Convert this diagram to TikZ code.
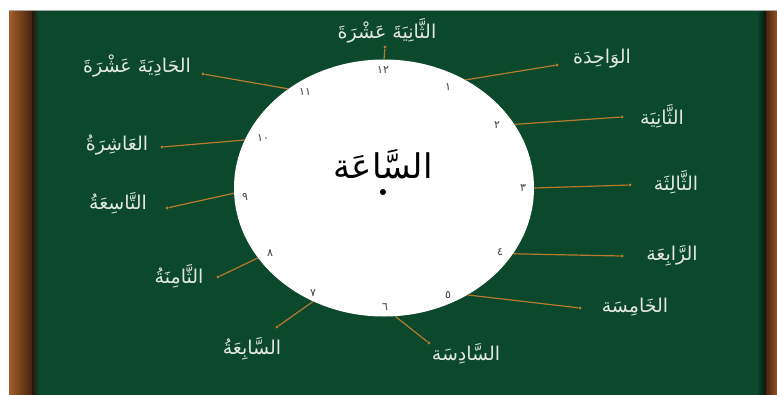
\documentclass[tikz,border=0pt]{standalone}
\usepackage{fontspec}
\usetikzlibrary{shapes.geometric}
\TeXXeTstate=1
\newfontfamily\arabicfont[Script=Arabic]{DejaVu Sans}
\definecolor{board}{RGB}{12,72,44}
\definecolor{chalk}{RGB}{226,232,222}
\definecolor{wirecol}{RGB}{184,122,46}
\definecolor{woodA}{RGB}{165,92,42}
\definecolor{woodB}{RGB}{70,36,16}
\begin{document}
\begin{tikzpicture}[x=1pt,y=-1pt,
  lbl/.style={text=chalk,font=\arabicfont\fontsize{19}{22}\selectfont,inner sep=0pt},
  num/.style={text=black!75,font=\arabicfont\fontsize{11}{12}\selectfont,inner sep=0pt},
  connector/.style={draw=wirecol,line width=1.2pt},
  tip/.style={circle,fill=wirecol,inner sep=0pt,minimum size=3.2pt}]
% canvas and board
\fill[white] (0,0) rectangle (777,394);
\useasboundingbox (0,0) rectangle (777,394);
\fill[board] (32,10) rectangle (766,400);
\shade[left color=woodA,right color=woodB] (9,10) rectangle (32,400);
\shade[left color=woodB!60!black,right color=board] (32,10) rectangle (39,400);
\shade[left color=board,right color=black!70!board] (757,10) rectangle (766,400);
\shade[left color=woodB,right color=woodA!80!woodB] (766,10) rectangle (777,400);
\draw[black!35,line width=0.6pt] (9,10) -- (777,10);
% clock face
\node[ellipse,fill=white,minimum width=300pt,minimum height=257pt,inner sep=0pt] (clock) at (384,188) {};
\node[text=black,font=\arabicfont\fontsize{34}{40}\selectfont,inner sep=0pt] (title) at (383,164) {\beginR السَّاعَة\endR};
\node[circle,fill=black,inner sep=0pt,minimum size=6pt] (hub) at (383,192) {};
% numerals
\node[num] (n12) at (383,70) {١٢};
\node[num] (n1) at (448,87) {١};
\node[num] (n2) at (497,125) {٢};
\node[num] (n3) at (523,188) {٣};
\node[num] (n4) at (500,252) {٤};
\node[num] (n5) at (448,295) {٥};
\node[num] (n6) at (385,307) {٦};
\node[num] (n7) at (313,293) {٧};
\node[num] (n8) at (270,253) {٨};
\node[num] (n9) at (245,197) {٩};
\node[num] (n10) at (263,138) {١٠};
\node[num] (n11) at (305,92) {١١};
% connector ends
\node[tip] (d12) at (385,47) {};
\node[tip] (d1) at (557,65) {};
\node[tip] (d2) at (622,117) {};
\node[tip] (d3) at (630,185) {};
\node[tip] (d4) at (622,256) {};
\node[tip] (d5) at (580,308) {};
\node[tip] (d6) at (429,343) {};
\node[tip] (d7) at (277,327) {};
\node[tip] (d8) at (218,277) {};
\node[tip] (d9) at (167,208) {};
\node[tip] (d10) at (162,147) {};
\node[tip] (d11) at (203,74) {};
% connectors
\draw[connector] (clock.90) -- (d12);
\draw[connector] (clock.53.5) -- (d1);
\draw[connector] (clock.26.4) -- (d2);
\draw[connector] (clock.0.5) -- (d3);
\draw[connector] (clock.-27.8) -- (d4);
\draw[connector] (clock.-52.6) -- (d5);
\draw[connector] (clock.-85.7) -- (d6);
\draw[connector] (clock.-122.4) -- (d7);
\draw[connector] (clock.-151.4) -- (d8);
\draw[connector] (clock.182.6) -- (d9);
\draw[connector] (clock.161.9) -- (d10);
\draw[connector] (clock.134.7) -- (d11);
% labels
\node[lbl] (l12) at (387,31) {\beginR الثَّانِيَةَ عَشْرَةَ\endR};
\node[lbl] (l1) at (602,59) {\beginR الوَاحِدَة\endR};
\node[lbl] (l2) at (662,116) {\beginR الثَّانِيَة\endR};
\node[lbl] (l3) at (676,182) {\beginR الثَّالِثَة\endR};
\node[lbl] (l4) at (672,256) {\beginR الرَّابِعَة\endR};
\node[lbl] (l5) at (635,307) {\beginR الخَامِسَة\endR};
\node[lbl] (l6) at (466,354) {\beginR السَّادِسَة\endR};
\node[lbl] (l7) at (252,349) {\beginR السَّابِعَةُ\endR};
\node[lbl] (l8) at (179,276) {\beginR الثَّامِنَةُ\endR};
\node[lbl] (l9) at (118,203) {\beginR التَّاسِعَةُ\endR};
\node[lbl] (l10) at (117,145) {\beginR العَاشِرَةُ\endR};
\node[lbl] (l11) at (137,66) {\beginR الحَادِيَةَ عَشْرَةَ\endR};
\end{tikzpicture}
\end{document}
